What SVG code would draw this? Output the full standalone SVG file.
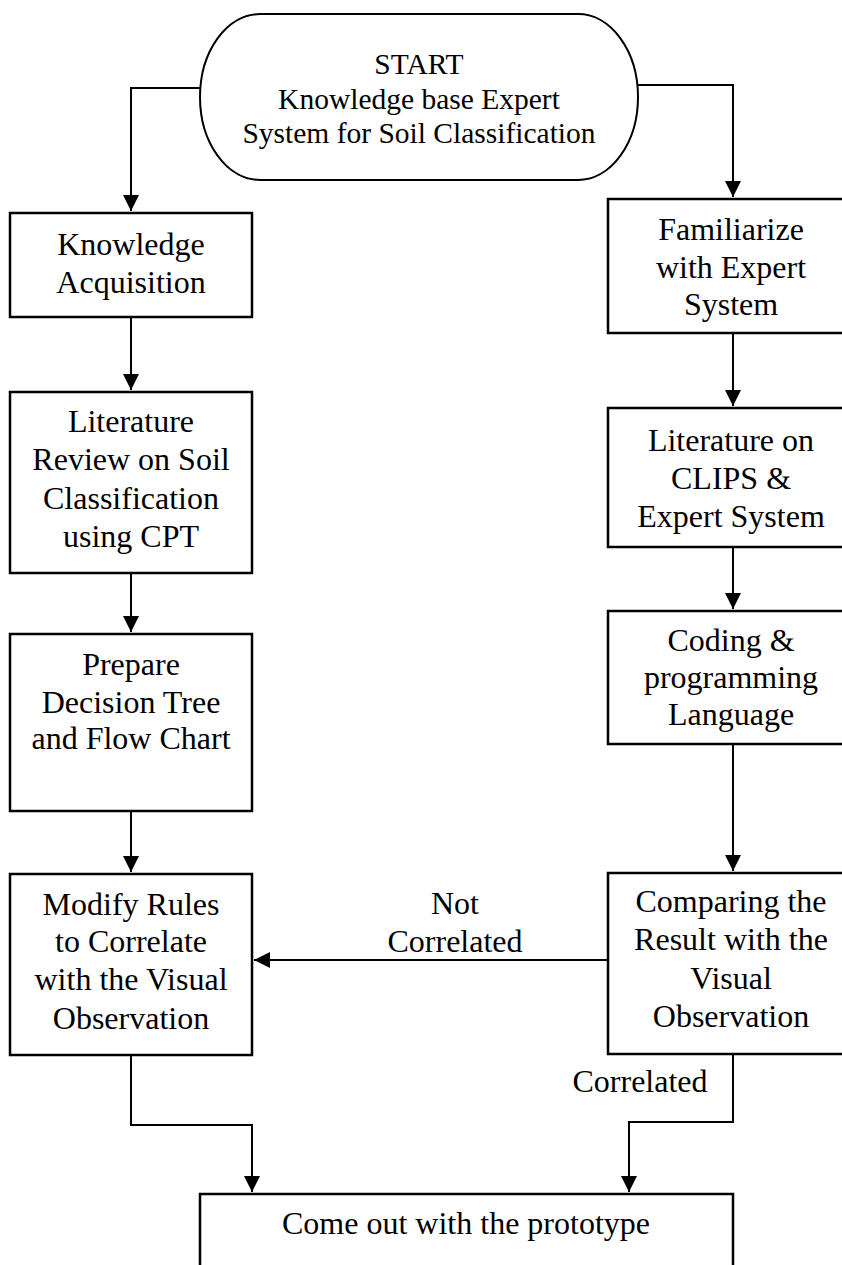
<svg xmlns="http://www.w3.org/2000/svg" width="842" height="1265" viewBox="0 0 842 1265">
<style>
.box{fill:#fff;stroke:#000;stroke-width:2.5}
.t{font-family:"Liberation Serif","Times New Roman",serif;font-size:32px;fill:#000;text-anchor:middle}
.ts{font-family:"Liberation Serif","Times New Roman",serif;font-size:29.5px;fill:#000;text-anchor:middle}
.c{fill:none;stroke:#000;stroke-width:2}
</style>
<defs>
<marker id="ah" markerUnits="userSpaceOnUse" markerWidth="17" markerHeight="16" refX="16" refY="8" orient="auto">
<path d="M0,0 L16,8 L0,16 z" fill="#000"/>
</marker>
</defs>
<rect width="842" height="1265" fill="#fff"/>
<g id="connectors">
<path class="c" d="M200,88 H131 V211" marker-end="url(#ah)"/>
<path class="c" d="M638,85 H733 V197" marker-end="url(#ah)"/>
<path class="c" d="M131,317 V390" marker-end="url(#ah)"/>
<path class="c" d="M131,573 V632" marker-end="url(#ah)"/>
<path class="c" d="M131,811 V872" marker-end="url(#ah)"/>
<path class="c" d="M733,333 V406" marker-end="url(#ah)"/>
<path class="c" d="M733,547 V609" marker-end="url(#ah)"/>
<path class="c" d="M733,744 V871" marker-end="url(#ah)"/>
<path class="c" d="M608,960 H254" stroke-width="2.5" marker-end="url(#ah)"/>
<path class="c" d="M131,1055 V1125 H252 V1192" marker-end="url(#ah)"/>
<path class="c" d="M733,1054 V1122 H629 V1192" marker-end="url(#ah)"/>
<text class="t" x="455" y="914">Not</text>
<text class="t" x="455" y="952">Correlated</text>
<text class="t" x="640" y="1092">Correlated</text>
</g>
<g id="start">
<rect x="200" y="14" width="438" height="166" rx="60" ry="83" fill="#fff" stroke="#000" stroke-width="2"/>
<text class="ts" x="419" y="74">START</text>
<text class="ts" x="419" y="109">Knowledge base Expert</text>
<text class="ts" x="419" y="143">System for Soil Classification</text>
</g>
<g id="knowledge">
<rect class="box" x="10" y="213" width="242" height="104"/>
<text class="t" x="131" y="255">Knowledge</text>
<text class="t" x="131" y="293">Acquisition</text>
</g>
<g id="litreview">
<rect class="box" x="10" y="392" width="242" height="181"/>
<text class="t" x="131" y="432">Literature</text>
<text class="t" x="131" y="470">Review on Soil</text>
<text class="t" x="131" y="509">Classification</text>
<text class="t" x="131" y="547">using CPT</text>
</g>
<g id="prepare">
<rect class="box" x="10" y="634" width="242" height="177"/>
<text class="t" x="131" y="675">Prepare</text>
<text class="t" x="131" y="713">Decision Tree</text>
<text class="t" x="131" y="749">and Flow Chart</text>
</g>
<g id="modify">
<rect class="box" x="10" y="874" width="242" height="181"/>
<text class="t" x="131" y="915">Modify Rules</text>
<text class="t" x="131" y="952">to Correlate</text>
<text class="t" x="131" y="990">with the Visual</text>
<text class="t" x="131" y="1029">Observation</text>
</g>
<g id="familiarize">
<rect class="box" x="608" y="199" width="246" height="134"/>
<text class="t" x="731" y="240">Familiarize</text>
<text class="t" x="731" y="278">with Expert</text>
<text class="t" x="731" y="315">System</text>
</g>
<g id="litclips">
<rect class="box" x="608" y="408" width="246" height="139"/>
<text class="t" x="731" y="451">Literature on</text>
<text class="t" x="731" y="489">CLIPS &amp;</text>
<text class="t" x="731" y="527">Expert System</text>
</g>
<g id="coding">
<rect class="box" x="608" y="611" width="246" height="133"/>
<text class="t" x="731" y="651">Coding &amp;</text>
<text class="t" x="731" y="688">programming</text>
<text class="t" x="731" y="725">Language</text>
</g>
<g id="comparing">
<rect class="box" x="608" y="873" width="246" height="181"/>
<text class="t" x="731" y="912">Comparing the</text>
<text class="t" x="731" y="950">Result with the</text>
<text class="t" x="731" y="989">Visual</text>
<text class="t" x="731" y="1027">Observation</text>
</g>
<g id="prototype">
<rect class="box" x="200" y="1194" width="533" height="96"/>
<text class="t" x="466" y="1234">Come out with the prototype</text>
</g>
</svg>
